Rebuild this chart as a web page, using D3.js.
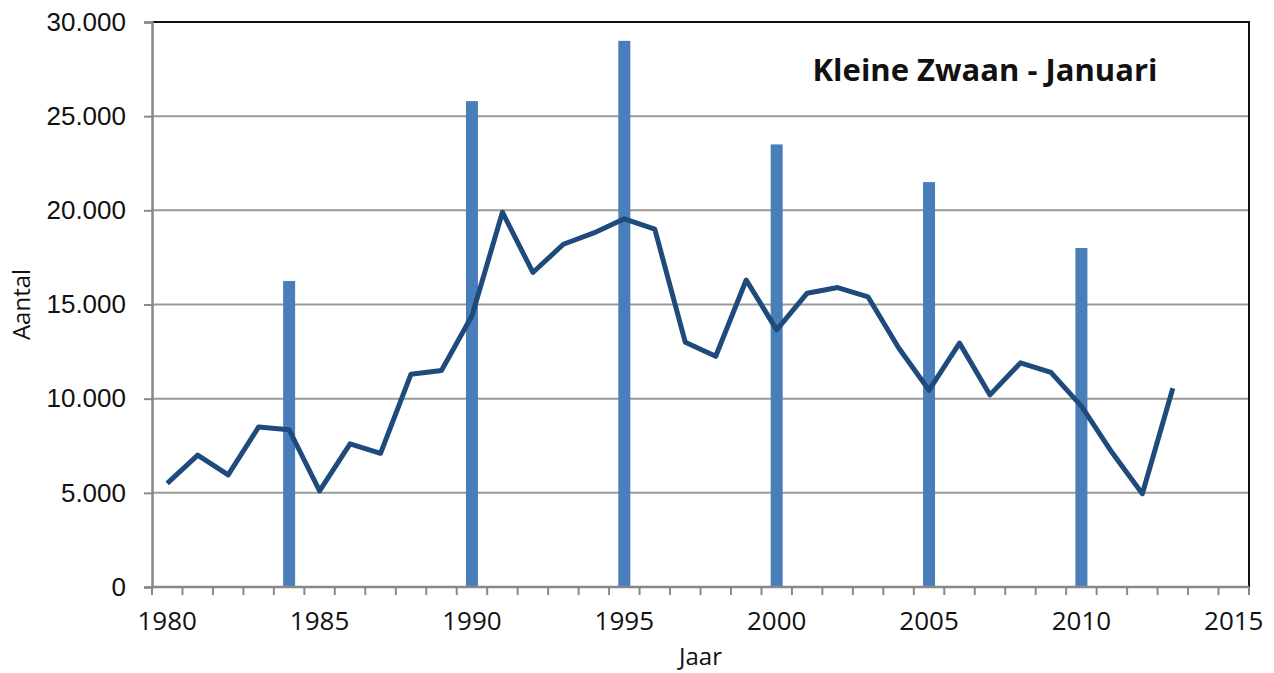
<!DOCTYPE html>
<html>
<head>
<meta charset="utf-8">
<script src="https://cdn.jsdelivr.net/npm/d3@7"></script>
<style>
  body { margin: 0; background: #fff; }
  svg { font-family: 'Open Sans', 'Noto Sans', sans-serif; }
</style>
</head>
<body>
<div id="chart"></div>
<script>
// years on the category axis (1980..2015)
const years = d3.range(1980, 2016);
const tickYears = [1980, 1985, 1990, 1995, 2000, 2005, 2010, 2015];

// January counts (line)
const lineYears = d3.range(1980, 2014);
const lineValues = [
  5500, 7000, 5950, 8500, 8350, 5100, 7600, 7100, 11300, 11500,
  14400, 19900, 16700, 18200, 18800, 19550, 19000, 13000, 12250, 16300,
  13650, 15600, 15900, 15400, 12700, 10450, 12950, 10200, 11900, 11400,
  9600, 7150, 4950, 10550
];

// international counts (bars)
const barYears = [1984, 1990, 1995, 2000, 2005, 2010];
const barValues = [16250, 25800, 29000, 23500, 21500, 18000];

const yTicks = [0, 5000, 10000, 15000, 20000, 25000, 30000];

const W = 1274, H = 673;
const margin = { top: 22, right: 25, bottom: 86, left: 152 };

const svg = d3.select('#chart').append('svg')
  .attr('width', W)
  .attr('height', H);

const x = d3.scaleBand()
  .domain(years)
  .range([margin.left, W - margin.right]);

const y = d3.scaleLinear()
  .domain([0, 30000])
  .range([H - margin.bottom, margin.top]);

const fmt = v => v === 0 ? '0' : d3.format(',')(v).replace(/,/g, '.');

// gridlines
svg.append('g')
  .selectAll('line')
  .data(yTicks.filter(d => d > 0 && d < 30000))
  .enter()
  .append('line')
    .attr('x1', margin.left)
    .attr('x2', W - margin.right)
    .attr('y1', d => y(d))
    .attr('y2', d => y(d))
    .attr('stroke', '#9a9a9a')
    .attr('stroke-width', 2);

// plot frame top/right
svg.append('path')
  .attr('d', `M${margin.left},${y(30000)}H${W - margin.right}V${y(0)}`)
  .attr('fill', 'none')
  .attr('stroke', '#111')
  .attr('stroke-width', 2);

// bars
svg.append('g')
  .selectAll('rect')
  .data(barYears)
  .enter()
  .append('rect')
    .attr('x', (d) => x(d) + x.bandwidth() / 2 - 6)
    .attr('width', 12)
    .attr('y', (d, i) => y(barValues[i]))
    .attr('height', (d, i) => y(0) - y(barValues[i]))
    .attr('fill', '#4a7ebb');

// line
const line = d3.line()
  .x((d, i) => x(lineYears[i]) + x.bandwidth() / 2)
  .y(d => y(d));

svg.append('path')
  .datum(lineValues)
  .attr('d', line)
  .attr('fill', 'none')
  .attr('stroke', '#1f4a7c')
  .attr('stroke-width', 5)
  .attr('stroke-linejoin', 'round');

// y axis
const yAxis = svg.append('g')
  .attr('transform', `translate(${margin.left},0)`)
  .call(d3.axisLeft(y).tickValues(yTicks).tickFormat(fmt).tickSize(8).tickPadding(18));
yAxis.select('.domain').attr('stroke', '#888').attr('stroke-width', 2.5);
yAxis.selectAll('.tick line').attr('stroke', '#888').attr('stroke-width', 2);
yAxis.selectAll('.tick text')
  .attr('font-size', 26)
  .attr('fill', '#111');

// x axis: ticks at category boundaries
const xg = svg.append('g')
  .attr('transform', `translate(0,${y(0)})`);
xg.append('line')
  .attr('x1', margin.left)
  .attr('x2', W - margin.right)
  .attr('stroke', '#888')
  .attr('stroke-width', 2.5);
xg.selectAll('.xt')
  .data(years.concat([2016]))
  .enter()
  .append('line')
    .attr('class', 'xt')
    .attr('x1', d => d === 2016 ? x(2015) + x.bandwidth() : x(d))
    .attr('x2', d => d === 2016 ? x(2015) + x.bandwidth() : x(d))
    .attr('y1', 0)
    .attr('y2', 8)
    .attr('stroke', '#888')
    .attr('stroke-width', 2);
xg.selectAll('.xl')
  .data(tickYears)
  .enter()
  .append('text')
    .attr('class', 'xl')
    .attr('x', d => x(d) + x.bandwidth() / 2)
    .attr('y', 43)
    .attr('text-anchor', 'middle')
    .attr('font-size', 26)
    .attr('fill', '#111')
    .text(d => d);

// axis titles
svg.append('text')
  .attr('transform', `translate(30,${(y(0) + y(30000)) / 2}) rotate(-90)`)
  .attr('text-anchor', 'middle')
  .attr('font-size', 24)
  .attr('fill', '#111')
  .text('Aantal');

svg.append('text')
  .attr('x', (margin.left + W - margin.right) / 2)
  .attr('y', 665)
  .attr('text-anchor', 'middle')
  .attr('font-size', 24)
  .attr('fill', '#111')
  .text('Jaar');

// chart title
svg.append('text')
  .attr('x', 985)
  .attr('y', 81)
  .attr('text-anchor', 'middle')
  .attr('font-size', 31)
  .attr('font-weight', 'bold')
  .attr('fill', '#111')
  .text('Kleine Zwaan - Januari');
</script>
</body>
</html>
